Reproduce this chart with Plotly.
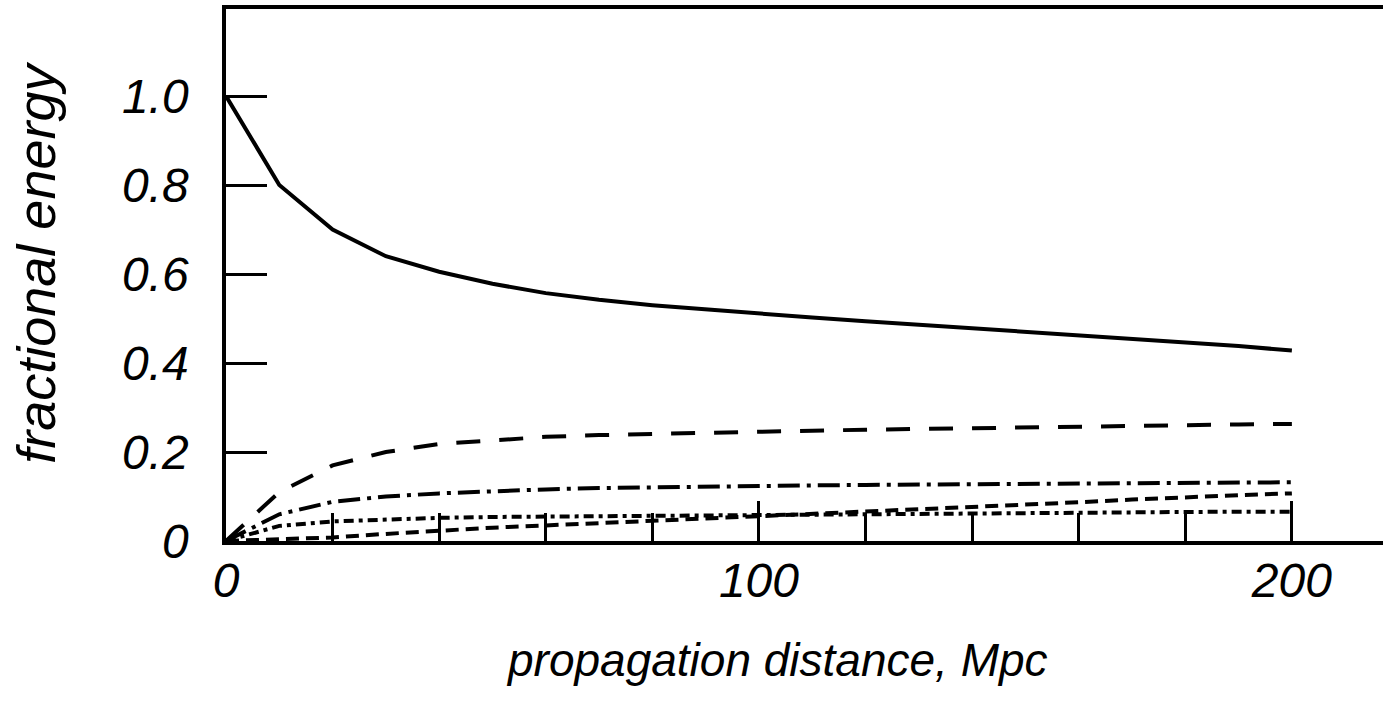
import plotly.graph_objects as go

# distance in Mpc
distance = [0, 10, 20, 30, 40, 50, 60, 70, 80, 90, 100,
            110, 120, 130, 140, 150, 160, 170, 180, 190, 200]

# fractional energy in each channel
solid = [1.0, 0.80, 0.70, 0.64, 0.605, 0.578, 0.557, 0.542, 0.530, 0.520, 0.511,
         0.502, 0.494, 0.486, 0.478, 0.471, 0.463, 0.455, 0.447, 0.438, 0.428]
long_dash = [0.0, 0.11, 0.17, 0.20, 0.218, 0.227, 0.234, 0.238, 0.241, 0.244, 0.246,
             0.248, 0.250, 0.252, 0.254, 0.256, 0.258, 0.259, 0.261, 0.262, 0.263]
dash_dot = [0.0, 0.06, 0.088, 0.10, 0.107, 0.112, 0.116, 0.119, 0.121, 0.123, 0.124,
            0.125, 0.126, 0.127, 0.128, 0.129, 0.130, 0.130, 0.131, 0.131, 0.132]
short_dash = [0.0, 0.003, 0.008, 0.016, 0.024, 0.030, 0.035, 0.040, 0.045, 0.050, 0.055,
              0.060, 0.065, 0.070, 0.075, 0.081, 0.087, 0.093, 0.099, 0.103, 0.107]
dash_dot_low = [0.0, 0.034, 0.044, 0.049, 0.052, 0.054, 0.055, 0.056, 0.056, 0.056, 0.057,
                0.058, 0.060, 0.061, 0.062, 0.063, 0.064, 0.065, 0.066, 0.066, 0.066]

y_ticks = [0, 0.2, 0.4, 0.6, 0.8, 1.0]
y_ticktext = ["0", "0.2", "0.4", "0.6", "0.8", "1.0"]
x_ticks = [0, 100, 200]

series = [
    (solid, "solid"),
    (long_dash, "24px,19px"),
    (dash_dot, "22px,7px,4px,7px"),
    (short_dash, "13px,7px"),
    (dash_dot_low, "10px,5px,4px,5px"),
]

font_family = "Liberation Sans, Arial, Helvetica, sans-serif"

fig = go.Figure()
for vals, dash in series:
    fig.add_trace(go.Scatter(
        x=distance, y=vals, mode="lines",
        line=dict(color="black", width=4, dash=dash),
        showlegend=False,
    ))

fig.update_layout(
    width=1383, height=705,
    margin=dict(l=226, r=0, t=9, b=164, autoexpand=False),
    paper_bgcolor="white", plot_bgcolor="white",
    showlegend=False,
)

fig.update_xaxes(
    range=[0, 217.1], automargin=False,
    showgrid=False, zeroline=False,
    showline=True, linecolor="black", linewidth=3.5, mirror=True,
    tickvals=x_ticks, ticks="inside", ticklen=40, tickwidth=3, tickcolor="black",
    minor=dict(dtick=20, tick0=0, ticks="inside", ticklen=28, tickwidth=3, tickcolor="black"),
    tickfont=dict(family=font_family, size=48, color="black", style="italic"),
    ticklabelstandoff=-5,
)
fig.update_yaxes(
    range=[0, 1.1955], automargin=False,
    showgrid=False, zeroline=False,
    showline=True, linecolor="black", linewidth=3.5, mirror=False,
    tickvals=y_ticks, ticktext=y_ticktext,
    ticks="inside", ticklen=41, tickwidth=3, tickcolor="black",
    tickfont=dict(family=font_family, size=48, color="black", style="italic"),
    ticklabelstandoff=24,
)

fig.add_annotation(
    text="propagation distance, Mpc",
    xref="paper", yref="paper", x=0.476, y=0, yshift=-119,
    xanchor="center", yanchor="middle", showarrow=False,
    font=dict(family=font_family, size=46, color="black", style="italic"),
)
fig.add_annotation(
    text="fractional energy",
    xref="paper", yref="paper", x=0, xshift=-190, y=0.523,
    xanchor="center", yanchor="middle", showarrow=False, textangle=-90,
    font=dict(family=font_family, size=54, color="black", style="italic"),
)

# drop the default page margin so the figure sits at the window corner
fig.write_html("out.html", config={"displayModeBar": False},
               post_script="document.body.style.margin='0px';")
